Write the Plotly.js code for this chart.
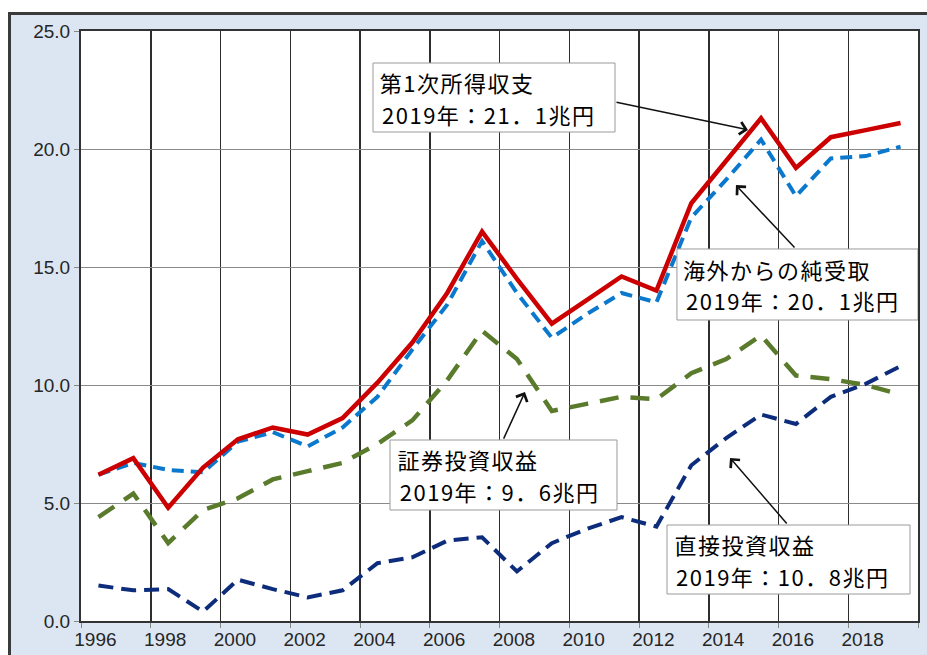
<!DOCTYPE html>
<html>
<head>
<meta charset="utf-8">
<script src="https://cdn.plot.ly/plotly-3.0.1.min.js"></script>
<style>
  html, body { margin: 0; padding: 0; background: #ffffff; width: 927px; height: 655px; overflow: hidden; }
  #wrap { position: absolute; left: 8px; top: 12px; border-top: 3px solid #3a3a3a; border-left: 3px solid #3a3a3a; }
  #chart { width: 916px; height: 640px; }
  #chart .annotation-text { letter-spacing: 1.5px; }
</style>
</head>
<body>
<div id="wrap"><div id="chart"></div></div>
<script>
// ---- data ----
var years = [1996,1997,1998,1999,2000,2001,2002,2003,2004,2005,2006,2007,2008,2009,2010,2011,2012,2013,2014,2015,2016,2017,2018,2019];
var tickYears = [1996,1998,2000,2002,2004,2006,2008,2010,2012,2014,2016,2018];
var tickLabels = ["1996","1998","2000","2002","2004","2006","2008","2010","2012","2014","2016","2018"];

var seriesNames = ["第1次所得収支","海外からの純受取","証券投資収益","直接投資収益"];
var primaryIncome = [6.2,6.9,4.8,6.5,7.7,8.2,7.9,8.6,10.1,11.8,13.9,16.5,14.5,12.6,13.6,14.6,14.0,17.7,19.5,21.3,19.2,20.5,20.8,21.1];
var netReceipts   = [6.2,6.7,6.4,6.3,7.6,8.0,7.4,8.2,9.5,11.5,13.4,16.1,13.9,12.0,13.0,13.9,13.5,17.1,18.7,20.4,18.0,19.6,19.7,20.1];
var portfolioInc  = [4.4,5.4,3.3,4.7,5.2,6.0,6.35,6.7,7.5,8.5,10.2,12.3,11.1,8.9,9.2,9.5,9.4,10.5,11.1,12.1,10.4,10.25,10.0,9.6];
var directInc     = [1.5,1.3,1.35,0.4,1.75,1.35,1.0,1.3,2.45,2.7,3.4,3.55,2.1,3.3,3.9,4.4,4.0,6.6,7.75,8.75,8.35,9.5,10.05,10.8];

var valueTexts = ["2019年：21．1兆円","2019年：20．1兆円","2019年：9．6兆円","2019年：10．8兆円"];

// ---- traces ----
var traces = [
  {x: years, y: directInc, name: seriesNames[3], mode: "lines",
   line: {color: "#0d2d7c", width: 4, dash: "15px,8px"}, hoverinfo: "skip"},
  {x: years, y: portfolioInc, name: seriesNames[2], mode: "lines",
   line: {color: "#5a7a2c", width: 4.5, dash: "19px,12px"}, hoverinfo: "skip"},
  {x: years, y: netReceipts, name: seriesNames[1], mode: "lines",
   line: {color: "#0a78cc", width: 4, dash: "12px,7px"}, hoverinfo: "skip"},
  {x: years, y: primaryIncome, name: seriesNames[0], mode: "lines",
   line: {color: "#cc0000", width: 4.5}, hoverinfo: "skip"}
];

var jp = "Noto Sans CJK JP";
var boxFont = {family: jp, size: 22, color: "#000000"};

// label box frames (x0, x1, y0, y1) and text lines (x, y1, y2)
var boxes = [
  {x0: 2003.873, x1: 2010.812, y0: 20.72, y1: 23.644, tx: 2004.16, l1: 22.86, l2: 21.50},
  {x0: 2012.588, x1: 2019.5,   y0: 12.754, y1: 15.763, tx: 2012.876, l1: 14.936, l2: 13.581},
  {x0: 2004.360, x1: 2010.869, y0: 4.703, y1: 7.669, tx: 2004.647, l1: 6.864, l2: 5.508},
  {x0: 2012.303, x1: 2019.271, y0: 1.144, y1: 4.068, tx: 2012.588, l1: 3.284, l2: 1.928}
];

var shapes = [];
var annotations = [];
boxes.forEach(function (b, i) {
  shapes.push({type: "rect", xref: "x", yref: "y", x0: b.x0, x1: b.x1, y0: b.y0, y1: b.y1,
               fillcolor: "#ffffff", line: {color: "#9a9a9a", width: 1}, layer: "above"});
  annotations.push({text: seriesNames[i], x: b.tx, y: b.l1, xref: "x", yref: "y", xshift: 1,
                    xanchor: "left", yanchor: "middle", showarrow: false, borderpad: 0, font: boxFont});
  annotations.push({text: valueTexts[i], x: b.tx, y: b.l2, xref: "x", yref: "y", xshift: 7,
                    xanchor: "left", yanchor: "middle", showarrow: false, borderpad: 0, font: boxFont});
});

function arrow(x, y, ax, ay) {
  return {text: "", x: x, y: y, xref: "x", yref: "y", ax: ax, ay: ay, showarrow: true,
          arrowhead: 4, arrowsize: 1.6, arrowwidth: 1.5, arrowcolor: "#111111",
          standoff: 0, startstandoff: 0};
}
annotations.push(arrow(2014.625, 20.81, -133, -28));
annotations.push(arrow(2014.28, 18.47, 60, 64));
annotations.push(arrow(2008.23, 9.70, -22, 48));
annotations.push(arrow(2014.11, 6.91, 58, 67));

var tickFont = {family: "Liberation Sans, Arial, sans-serif", size: 19, color: "#262626"};

var layout = {
  width: 916, height: 640,
  margin: {l: 70, r: 9, t: 16, b: 34, pad: 0},
  paper_bgcolor: "#dce6f2",
  plot_bgcolor: "#ffffff",
  showlegend: false,
  font: {family: "Liberation Sans, Arial, sans-serif", color: "#262626"},
  xaxis: {
    range: [1995.5, 2019.5], tickmode: "array", tickvals: tickYears, ticktext: tickLabels,
    ticks: "", showgrid: false, zeroline: false,
    showline: true, linecolor: "#333333", linewidth: 2, mirror: true,
    tickfont: tickFont,
    ticklabelshift: -3,
    minor: {tickmode: "linear", tick0: 1995.5, dtick: 2, ticks: "outside", ticklen: 5,
            tickcolor: "#888888", tickwidth: 1, showgrid: true, gridcolor: "#2e2e2e", gridwidth: 1.5},
    fixedrange: true
  },
  yaxis: {
    range: [0, 25], tickmode: "linear", tick0: 0, dtick: 5, tickformat: ".1f",
    ticks: "outside", ticklen: 5, tickcolor: "#888888",
    showgrid: true, gridcolor: "#8a8a8a", gridwidth: 1, zeroline: false,
    showline: true, linecolor: "#333333", linewidth: 2, mirror: true,
    tickfont: tickFont,
    fixedrange: true
  },
  shapes: shapes,
  annotations: annotations
};

Plotly.newPlot("chart", traces, layout, {staticPlot: true, displayModeBar: false});
</script>
</body>
</html>
